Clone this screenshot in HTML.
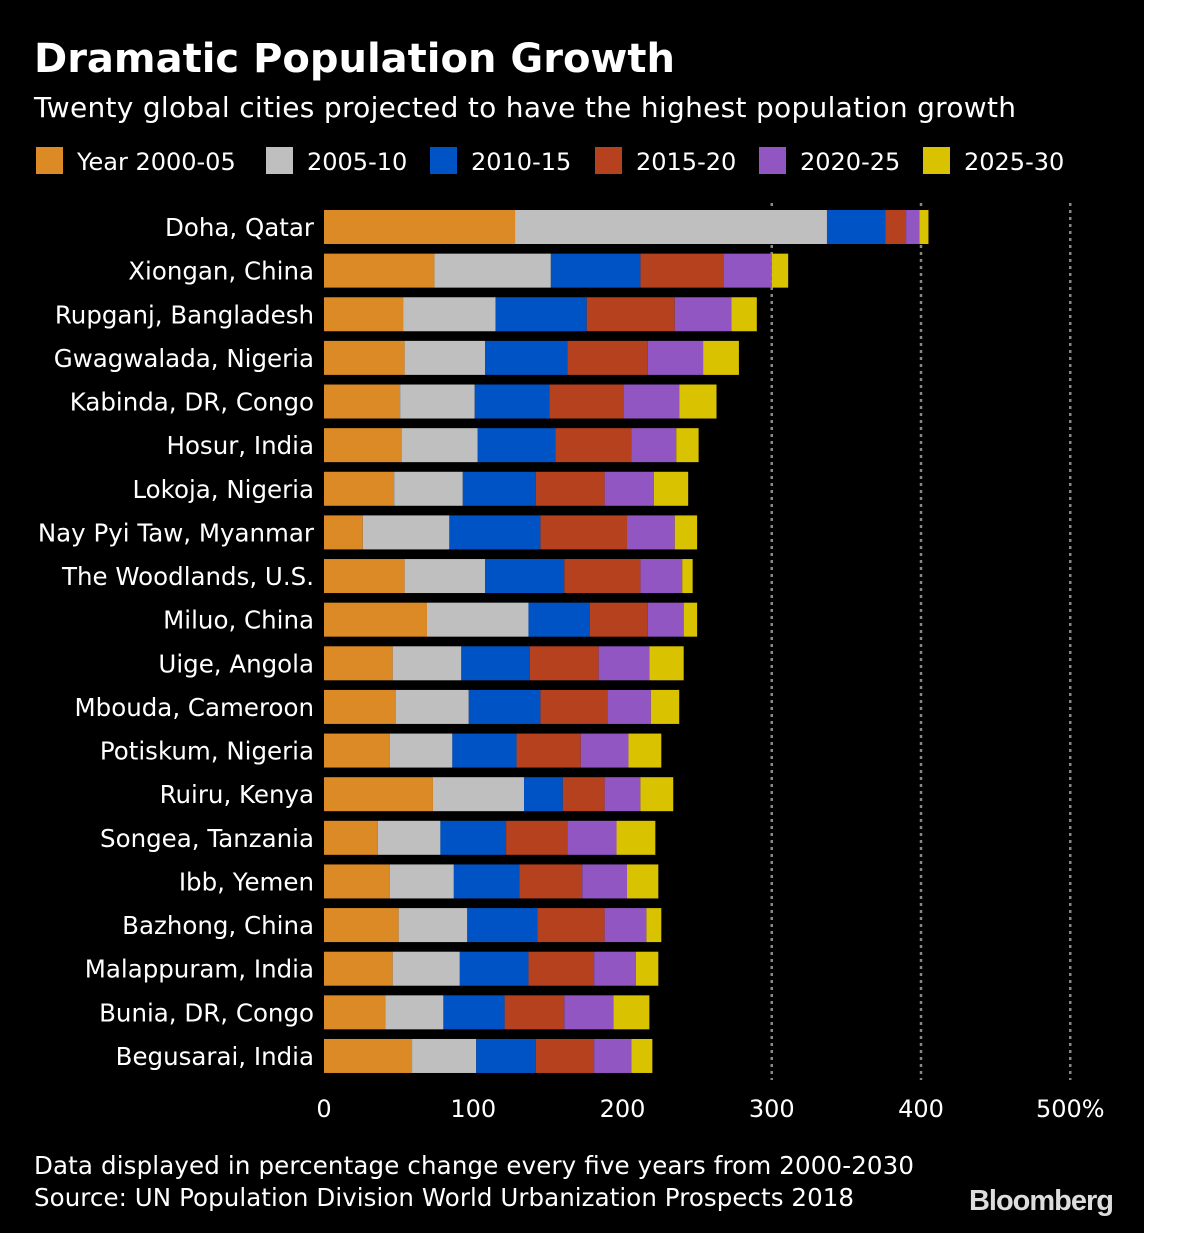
<!DOCTYPE html>
<html><head><meta charset="utf-8">
<style>
html,body{margin:0;padding:0;background:#fff;}
#wrap{position:relative;width:1200px;height:1233px;background:#fff;overflow:hidden;}
#chart{position:absolute;left:0;top:0;width:1144px;height:1233px;background:#000;}
text{font-family:"DejaVu Sans","Liberation Sans",sans-serif;}
</style></head>
<body>
<div id="wrap">
<div id="chart">
<svg id="svg" width="1144" height="1233">
<text x="34" y="72" fill="#fff" font-size="40" font-weight="bold">Dramatic Population Growth</text>
<text x="34" y="117" fill="#fff" font-size="28" textLength="982">Twenty global cities projected to have the highest population growth</text>
<g id="legend"></g>
<g id="grid"></g>
<g id="bars"></g>
<g id="ylabels"></g>
<g id="xticks"></g>
<text x="34" y="1174" fill="#fff" font-size="24.5" textLength="880">Data displayed in percentage change every five years from 2000-2030</text>
<text x="34" y="1206" fill="#fff" font-size="24.5" textLength="820">Source: UN Population Division World Urbanization Prospects 2018</text>
<text x="1113" y="1210" fill="#ddd" font-size="29" font-weight="bold" text-anchor="end" style="font-family:'Liberation Sans',sans-serif;letter-spacing:-1px">Bloomberg</text>
</svg>
</div>
</div>
<script>
const cities=["Doha, Qatar","Xiongan, China","Rupganj, Bangladesh","Gwagwalada, Nigeria","Kabinda, DR, Congo","Hosur, India","Lokoja, Nigeria","Nay Pyi Taw, Myanmar","The Woodlands, U.S.","Miluo, China","Uige, Angola","Mbouda, Cameroon","Potiskum, Nigeria","Ruiru, Kenya","Songea, Tanzania","Ibb, Yemen","Bazhong, China","Malappuram, India","Bunia, DR, Congo","Begusarai, India"];
const seriesNames=["Year 2000-05","2005-10","2010-15","2015-20","2020-25","2025-30"];
const s2000=[128,74,53,54,51,52,47,26,54,69,46,48,44,73,36,44,50,46,41,59];
const s2005=[209,78,62,54,50,51,46,58,54,68,46,49,42,61,42,43,46,45,39,43];
const s2010=[39,60,61,55,50,52,49,61,53,41,46,48,43,26,44,44,47,46,41,40];
const s2015=[14,56,59,54,50,51,46,58,51,39,46,45,43,28,41,42,45,44,40,39];
const s2020=[9,32,38,37,37,30,33,32,28,24,34,29,32,24,33,30,28,28,33,25];
const s2025=[6,11,17,24,25,15,23,15,7,9,23,19,22,22,26,21,10,15,24,14];
const ticks=[0,100,200,300,400,500];
const tickLabels=["0","100","200","300","400","500%"];
const gridVals=[300,400,500];
const colors=["#db8a26","#bfbfbf","#0053c4","#b5411f","#9256c2","#d9c200"];
const series=[s2000,s2005,s2010,s2015,s2020,s2025];
const NS="http://www.w3.org/2000/svg";
const x0=324,pxPer=1.4925;
const X=v=>x0+v*pxPer;
const Y=i=>227+i*43.63;
const barH=34;
function mk(tag,attrs,parent){const e=document.createElementNS(NS,tag);for(const k in attrs)e.setAttribute(k,attrs[k]);parent.appendChild(e);return e;}
const lg=document.getElementById('legend');
const legX=[36,266,430,595,759,923];
seriesNames.forEach((n,j)=>{
  const r=mk('rect',{x:legX[j],y:147,width:27,height:27,fill:colors[j]},lg);
  
  
  const t=mk('text',{x:legX[j]+41,y:170,fill:'#fff','font-size':24},lg);
  t.textContent=n;
  
  
});
const gg=document.getElementById('grid');
gridVals.forEach(v=>{
  const l=mk('line',{x1:X(v),x2:X(v),y1:203,y2:1080,stroke:'#888','stroke-width':2.5,'stroke-dasharray':'3,4'},gg);
  
  
});
const bg=document.getElementById('bars');
const yl=document.getElementById('ylabels');
cities.forEach((c,i)=>{
  let acc=0;
  series.forEach((s,j)=>{
    const r=mk('rect',{x:X(acc),y:Y(i)-barH/2,width:s[i]*pxPer,height:barH,fill:colors[j]},bg);
    
    
    acc+=s[i];
  });
  const t=mk('text',{x:314,y:Y(i)+9,fill:'#fff','font-size':24.5,'text-anchor':'end'},yl);
  t.textContent=c;
  
  
});
const xt=document.getElementById('xticks');
ticks.forEach((v,k)=>{
  const t=mk('text',{x:X(v),y:1117,fill:'#fff','font-size':24,'text-anchor':'middle'},xt);
  t.textContent=tickLabels[k];
  
  
});
</script>
</body></html>
